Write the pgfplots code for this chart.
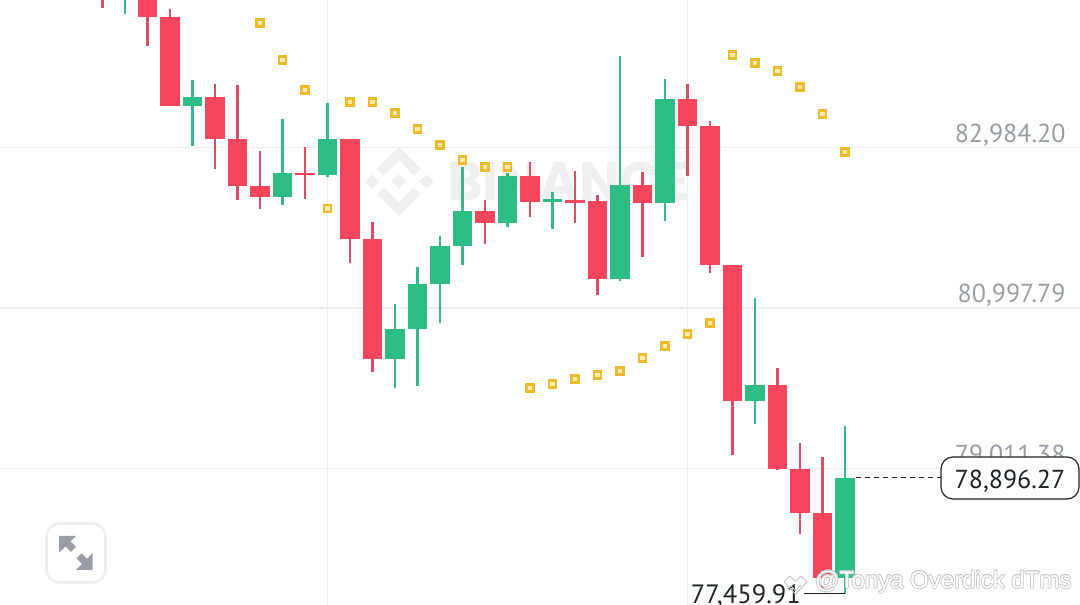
\documentclass[border=0pt]{standalone}
\usepackage{fontspec}
\setmainfont{PT Sans}
\newfontfamily\wmfont{Liberation Sans}
\newfontfamily\brandfont{Poppins}
\usepackage{pgfplots}
\usepackage{pgfplotstable}
\pgfplotsset{compat=1.18}

\definecolor{upc}{HTML}{2EBD85}
\definecolor{dnc}{HTML}{F6465D}
\definecolor{upw}{HTML}{3AB68A}
\definecolor{dnw}{HTML}{DC4E66}
\definecolor{gridc}{HTML}{ECEFF2}
\definecolor{lab}{HTML}{999EA6}
\definecolor{ink}{HTML}{1E2329}
\definecolor{sar}{HTML}{EDBB2C}
\definecolor{sarin}{HTML}{FBEDB0}
\definecolor{wmk}{HTML}{EEF0F1}

% candle index, low, high, bottom of body, top of body
\pgfplotstableread{
x low high bot top
0 84711 84872 84872 85181
2 84241 84900 84603 85000
3 83498 84699 83498 84603
5 82718 83770 83086 83606
6 82335 83758 82502 83086
7 82223 82941 82372 82502
9 82347 82991 82638 82669
11 81555 83086 81848 83086
12 80206 82066 80363 81848
17 81794 82335 82050 82198
19 82124 82801 82314 82635
21 82050 82694 82301 82335
22 81155 82396 81353 82322
24 81633 82685 82294 82517
26 82635 83774 83254 83581
27 81427 83316 81530 83254
28 79178 81530 79847 81530
30 78993 80255 79011 80045
31 78204 79327 78464 79011
32 77508 79150 77662 78464
}\downtable

\pgfplotstableread{
x low high bot top
1 84637 84900 84900 85181
4 83003 83820 83498 83606
8 82273 83337 82372 82669
10 82619 83535 82638 83086
13 80008 81047 80363 80734
14 80036 81505 80734 81291
15 80812 81889 81291 81765
16 81530 82747 81765 82198
18 82004 82669 82050 82635
20 81979 82430 82314 82347
23 81332 84121 81353 82517
25 82071 83829 82294 83581
29 79562 81122 79847 80045
33 77460 79537 77662 78896
}\uptable

\newcommand{\wmtext}[3]{%
  \foreach \dx/\dy in {-0.8/0,0.8/0,0/-0.8,0/0.8,-0.6/-0.6,0.6/0.6,-0.6/0.6,0.6/-0.6}
    \node[anchor=west,inner sep=0,text=#3!55!white] at (#1+\dx,#2+\dy) {\wmfont\fontsize{24}{28}\selectfont @Tonya Overdick dTms};
  \node[anchor=west,inner sep=0,text=white] at (#1,#2) {\wmfont\fontsize{24}{28}\selectfont @Tonya Overdick dTms};
}

\begin{document}
\begin{tikzpicture}
\clip[use as bounding box] (0,0) rectangle (1080pt,605pt);

% exchange watermark behind the chart
\begin{scope}[shift={(0,605pt)},x=1pt,y=-1pt]
  \fill[wmk] (399,174.5)--(406.5,181.5)--(399,189)--(391.5,181.5)--cycle;
  \fill[wmk] (372,174.5)--(379.5,181.5)--(372,189)--(364.5,181.5)--cycle;
  \fill[wmk] (426.5,174.5)--(434,181.5)--(426.5,189)--(419,181.5)--cycle;
  \fill[wmk] (399,147)--(421,169)--(414,175.5)--(399,160.5)--(384,175.5)--(377,169)--cycle;
  \fill[wmk] (399,216)--(421,194)--(414,187.5)--(399,202.5)--(384,187.5)--(377,194)--cycle;
  \node[anchor=west,inner sep=0,text=wmk] at (447,181.5)
    {\brandfont\fontsize{54}{58}\selectfont\bfseries BINANCE};
\end{scope}

\begin{axis}[
  at={(0,0)},anchor=south west,
  scale only axis,width=1080pt,height=605pt,
  xmin=-4.555,xmax=43.445,ymin=77322,ymax=84810,
  axis line style={draw=none},
  major tick length=0pt,
  xtick={10,26},xticklabels={},
  ytick={79011.38,80997.79,82984.20},
  yticklabels={{79,011.38},{80,997.79},{82,984.20}},
  yticklabel pos=right,
  yticklabel style={anchor=south east,xshift=-11pt,yshift=-2pt,text=lab,
    font=\fontsize{26}{28}\selectfont},
  grid=major,
  major grid style={gridc,line width=1.2pt},
  clip=false,
  error bars/y dir=plus,
  error bars/y explicit,
  error bars/error mark=none,
]
% wicks
\addplot[draw=none,mark=none,forget plot,error bars/error bar style={dnw,line width=2.9pt}]
  table[x=x,y=low,y error plus expr=\thisrow{high}-\thisrow{low}] {\downtable};
\addplot[draw=none,mark=none,forget plot,error bars/error bar style={upw,line width=2.9pt}]
  table[x=x,y=low,y error plus expr=\thisrow{high}-\thisrow{low}] {\uptable};
% bodies
\addplot[draw=none,mark=none,forget plot,error bars/error bar style={dnc,line width=19.6pt}]
  table[x=x,y=bot,y error plus expr=\thisrow{top}-\thisrow{bot}] {\downtable};
\addplot[draw=none,mark=none,forget plot,error bars/error bar style={upc,line width=19.6pt}]
  table[x=x,y=bot,y error plus expr=\thisrow{top}-\thisrow{bot}] {\uptable};
% parabolic SAR
\addplot[only marks,mark=square*,mark size=3.5pt,
  mark options={draw=sar,fill=sarin,line width=2.8pt}] coordinates {
  (7,84525) (8,84067) (9,83696) (10,82229) (11,83544) (12,83544) (13,83411)
  (14,83213) (15,83012) (16,82830) (17,82747) (18,82747)
  (19,80004) (20,80057) (21,80115) (22,80165) (23,80222) (24,80379) (25,80528)
  (26,80676) (27,80812)
  (28,84129) (29,84030) (30,83931) (31,83733) (32,83399) (33,82929)
};
% last price and session low
\addplot[ink,line width=1pt,dash pattern=on 5pt off 4pt] coordinates {(33.51,78896.27) (37.29,78896.27)};
\addplot[ink,line width=1pt] coordinates {(31.16,77459.91) (33.02,77459.91)};
\end{axis}

\begin{scope}[shift={(0,605pt)},x=1pt,y=-1pt]
  % last price tag
  \draw[ink,line width=1.2pt,fill=white,rounded corners=12pt] (941,457) rectangle (1079,499);
  \node[anchor=east,inner sep=0,text=ink] at (1065.5,481.5) {\fontsize{26}{28}\selectfont 78,896.27};
  \node[anchor=east,inner sep=0,text=ink] at (801,596) {\fontsize{26.5}{28}\selectfont 77,459.91};
  % expand button
  \draw[gridc,line width=2.6pt,rounded corners=13pt] (46.5,523.5) rectangle (105.5,582.5);
  \fill[lab] (59,536)--(76,536)--(70.5,541.5)--(76,547)--(71,552)--(65.5,546.5)--(59,552.7)--cycle;
  \fill[lab] (92.7,570)--(76,570)--(82,564)--(76.5,558.5)--(81.5,553.5)--(87,559)--(92.7,552.7)--cycle;
  % photo credit watermark
  \draw[lab!60!white,line width=1pt] (784,582)--(790,576)--(795.5,581.5)--(801,576)--(807,582)
    (790,585)--(795.5,590.5)--(801,585) (784,582)--(795.5,594)--(807,582);
  \wmtext{815}{582}{lab}
\end{scope}
\end{tikzpicture}
\end{document}
